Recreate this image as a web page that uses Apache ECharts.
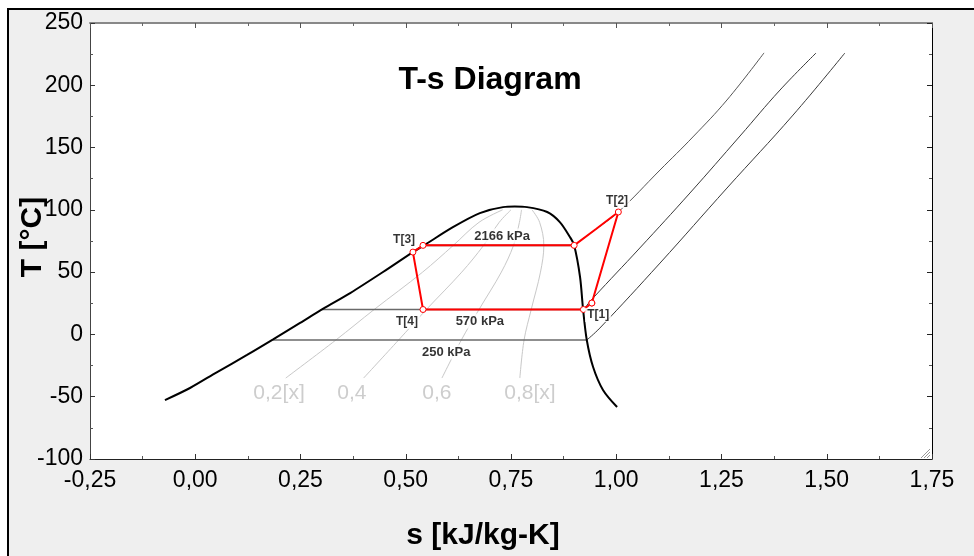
<!DOCTYPE html>
<html><head><meta charset="utf-8">
<script src="https://cdn.jsdelivr.net/npm/echarts@6/dist/echarts.min.js"></script>
<style>
html,body{margin:0;padding:0;background:#fff;}
#frame{position:absolute;left:7px;top:8px;width:967px;height:548px;border-left:2px solid #000;border-top:2px solid #000;background:#efefef;}
#c{position:absolute;left:0;top:0;width:974px;height:556px;}
</style></head><body><div id="frame"></div><div id="c"></div>
<script>
// ---- data (s [kJ/kg-K], T [°C]) ----
const domeS = [-0.072,-0.0125,0.052,0.123,0.185,0.249,0.303,0.368,0.446,0.517,0.541,0.612,0.676,0.731,0.759,0.788,0.836,0.866,0.890,0.900,0.914,0.921,0.930,0.945,0.9685,1.002];
const domeT = [-52.7,-43.0,-30.2,-16.5,-4.0,9.2,20.5,33.2,50.1,66.1,71.0,86.1,97.4,102.2,102.6,102.2,98.3,90.2,78.2,71.5,46.1,20.8,-4.5,-26.2,-44.6,-58.3];

const qualityT = [-35,-4.5,20,50,71.5,90,100];
const q02S = [0.215,0.334,0.425,0.540,0.613,0.674,0.730];
const q04S = [0.400,0.483,0.549,0.633,0.685,0.722,0.750];
const q06S = [0.586,0.632,0.674,0.727,0.756,0.770,0.775];
const q08S = [0.771,0.781,0.798,0.820,0.828,0.818,0.800];

// isobars inside the dome (horizontal)
const isoDomeS = [[0.185,0.930],[0.301,0.922],[0.541,0.900]];
const isoDomeT = [-4.5,20,71.5];

// superheated isobars
const p250S = [0.930,0.961,1.104,1.263,1.420,1.543];
const p250T = [-4.5,5.1,57.3,117.5,176.1,225.9];
const p570S = [0.922,0.945,1.056,1.175,1.294,1.389,1.4745];
const p570T = [20,29.2,69.4,113.5,159.3,196.2,225.9];
const p2166S = [0.900,0.952,1.005,1.104,1.182,1.263,1.351];
const p2166T = [71.5,84.6,98.3,132.0,158.5,188.2,226.0];

// refrigeration cycle: T1 -> T2 -> sat.vap -> sat.liq -> T3 -> T4 -> sat.vap -> T1
const cycleS = [0.942,1.005,0.952,0.900,0.541,0.517,0.541,0.922,0.942];
const cycleT = [25.2,98.3,84.6,71.5,71.5,66.1,20,20,25.2];
const cycleMarks = [true,true,false,true,true,true,true,true,true];

// labels
const stateLabels = ['T[1]','T[2]','T[3]','T[4]'];
const stateLabelS = [0.957,1.002,0.496,0.503];
const stateLabelT = [15.6,107,75.8,10];
const pLabels = ['2166 kPa','570 kPa','250 kPa'];
const pLabelS = [0.729,0.676,0.596];
const pLabelT = [79,10.8,-14.1];
const qLabels = ['0,2[x]','0,4','0,6','0,8[x]'];
const qLabelS = [0.199,0.372,0.574,0.795];
const qLabelT = [-47,-47,-47,-47];

const FF = 'Liberation Sans, Arial, sans-serif';
const zip = (a,b)=>a.map((v,i)=>[v,b[i]]);

function line(data,color,width,z,smooth){
  return {type:'line',data:data,showSymbol:false,symbol:'none',smooth:smooth||false,
    lineStyle:{color:color,width:width},z:z||2,silent:true,animation:false};
}

const series = [];
[q02S,q04S,q06S,q08S].forEach(q=>series.push(line(zip(q,qualityT),'#c8c8c8',1,1,0.35)));
isoDomeS.forEach((pair,i)=>series.push(line([[pair[0],isoDomeT[i]],[pair[1],isoDomeT[i]]],'#6a6a6a',1.6,2)));
series.push(line(zip(p250S,p250T),'#3a3a3a',1,2,0.4));
series.push(line(zip(p570S,p570T),'#3a3a3a',1,2,0.4));
series.push(line(zip(p2166S,p2166T),'#555555',1,2,0.4));
series.push(line(zip(domeS,domeT),'#000',2,3,0.3));
series.push({type:'line',data:cycleS.map((s,i)=>({value:[s,cycleT[i]],symbolSize:cycleMarks[i]?6:0})),
  symbol:'circle',symbolSize:6,showSymbol:true,itemStyle:{color:'#fff',borderColor:'#ff0000',borderWidth:1},
  lineStyle:{color:'#ff0000',width:2},z:5,animation:false,silent:true});

function labels(txt,s,t,font,color,bg){
  return {type:'scatter',symbolSize:0,z:6,silent:true,animation:false,
    data:txt.map((n,i)=>({name:n,value:[s[i],t[i]]})),
    label:{show:true,position:'inside',formatter:'{b}',color:color,fontFamily:FF,
      fontSize:font.size,fontWeight:font.weight,backgroundColor:bg,padding:[1,2]}};
}
series.push(labels(stateLabels,stateLabelS,stateLabelT,{size:12,weight:'bold'},'#000','#fff'));
series.push(labels(pLabels,pLabelS,pLabelT,{size:13,weight:'bold'},'#000','#fff'));
series.push(labels(qLabels,qLabelS,qLabelT,{size:21,weight:'normal'},'#c0c0c0','transparent'));

const chart = echarts.init(document.getElementById('c'),null,{renderer:'canvas'});
const axLabel = {color:'#000',fontSize:23,fontFamily:FF};
chart.setOption({
  backgroundColor:'transparent',
  animation:false,
  grid:{left:90,right:42,top:23,bottom:97,show:true,backgroundColor:'#fff',borderWidth:0},
  xAxis:[
    {type:'value',min:-0.25,max:1.75,interval:0.25,position:'bottom',
     axisLine:{show:true,onZero:false,lineStyle:{color:'#222',width:1}},
     axisTick:{show:true,inside:true,length:5,lineStyle:{color:'#333'}},
     minorTick:{show:true,splitNumber:2,length:3,lineStyle:{color:'#555'}},
     splitLine:{show:false},
     axisLabel:Object.assign({margin:10,formatter:v=>v.toFixed(2).replace('.',',')},axLabel)},
    {type:'value',min:-0.25,max:1.75,interval:0.25,position:'top',
     axisLine:{show:true,onZero:false,lineStyle:{color:'#888',width:2}},
     axisTick:{show:true,inside:true,length:5,lineStyle:{color:'#555'}},
     minorTick:{show:true,splitNumber:2,length:3,lineStyle:{color:'#666'}},
     splitLine:{show:false},axisLabel:{show:false}}
  ],
  yAxis:[
    {type:'value',min:-100,max:250,interval:50,position:'left',
     axisLine:{show:true,onZero:false,lineStyle:{color:'#444',width:1}},
     axisTick:{show:true,inside:true,length:5,lineStyle:{color:'#333'}},
     minorTick:{show:true,splitNumber:2,length:3,lineStyle:{color:'#555'}},
     splitLine:{show:false},
     axisLabel:Object.assign({margin:7,formatter:v=>String(v)},axLabel)},
    {type:'value',min:-100,max:250,interval:50,position:'right',
     axisLine:{show:true,onZero:false,lineStyle:{color:'#000',width:1}},
     axisTick:{show:true,inside:true,length:5,lineStyle:{color:'#222'}},
     minorTick:{show:true,splitNumber:2,length:3,lineStyle:{color:'#555'}},
     splitLine:{show:false},axisLabel:{show:false}}
  ],
  graphic:[
    {type:'text',x:490,y:80,z:10,style:{text:'T-s Diagram',fontFamily:FF,fontSize:32,fontWeight:'bold',fill:'#000',align:'center',verticalAlign:'middle'}},
    {type:'text',x:483,y:536,z:10,style:{text:'s [kJ/kg-K]',fontFamily:FF,fontSize:30,fontWeight:'bold',fill:'#000',align:'center',verticalAlign:'middle'}},
    {type:'text',x:33,y:237,rotation:Math.PI/2,z:10,style:{text:'T [°C]',fontFamily:FF,fontSize:30,fontWeight:'bold',fill:'#000',align:'center',verticalAlign:'middle'}},
    {type:'line',z:10,shape:{x1:930,y1:449,x2:921,y2:458},style:{stroke:'#999',lineWidth:1}},
    {type:'line',z:10,shape:{x1:930,y1:452,x2:924,y2:458},style:{stroke:'#999',lineWidth:1}},
    {type:'line',z:10,shape:{x1:930,y1:455,x2:927,y2:458},style:{stroke:'#999',lineWidth:1}}
  ],
  series:series
});
</script></body></html>
